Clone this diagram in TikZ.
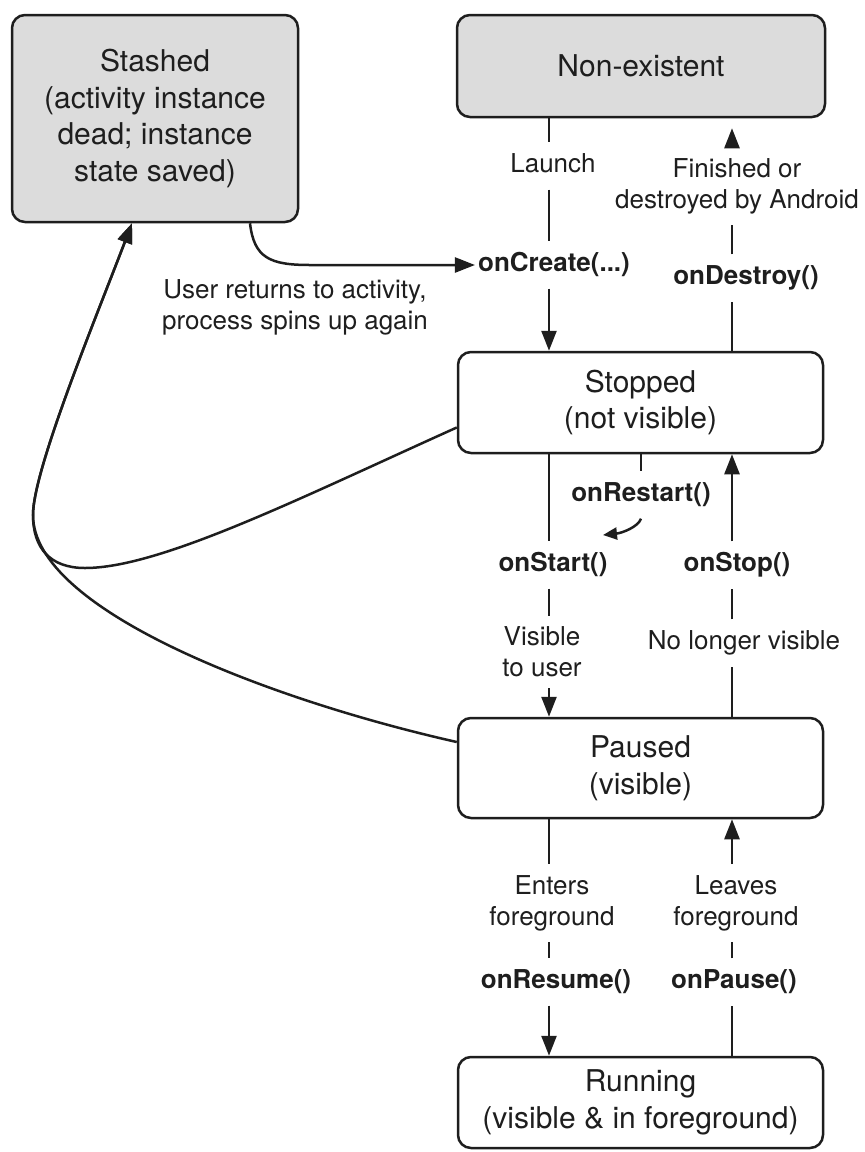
\documentclass[tikz,border=0pt]{standalone}
\usepackage{fontspec}
\setmainfont{TeX Gyre Heros}
\usetikzlibrary{arrows.meta}
\definecolor{boxgray}{HTML}{DCDCDC}
\definecolor{ink}{HTML}{1E1E1E}
\begin{document}
\begin{tikzpicture}[x=1pt,y=-1pt,
  state/.style={draw=ink, line width=2.5pt, rounded corners=13pt, align=center, text=ink, font=\fontsize{30}{36.5}\selectfont, inner sep=0pt},
  gstate/.style={state, fill=boxgray},
  wstate/.style={state, fill=white},
  lbl/.style={text=ink, font=\fontsize{26}{31}\selectfont, inner xsep=3pt, inner ysep=11pt, text height=19pt, text depth=6pt},
  lbltwo/.style={text=ink, font=\fontsize{26}{31}\selectfont, inner xsep=3pt, inner ysep=11pt, align=center},
  fn/.style={lbl, font=\fontsize{26}{31}\selectfont\bfseries},
  conn/.style={draw=ink, line width=2.5pt},
  arr/.style={conn, -{Triangle[length=20pt 0 0,width=15pt 0 0]}},
  sarr/.style={conn, -{Triangle[length=14pt 0 0,width=12pt 0 0]}},
]
\useasboundingbox (0,0) rectangle (865,1152);

% states
\node[gstate, minimum width=286pt, minimum height=207pt] (stashed) at (155,118.5) {Stashed\\(activity instance\\dead; instance\\state saved)};
\node[gstate, minimum width=368pt, minimum height=102pt] (ne) at (641,66) {Non-existent};
\node[wstate, minimum width=365pt, minimum height=101pt] (stopped) at (640.5,402.5) {Stopped\\(not visible)};
\node[wstate, minimum width=365pt, minimum height=100pt] (paused) at (640.5,768) {Paused\\(visible)};
\node[wstate, minimum width=365pt, minimum height=91pt] (running) at (640.5,1102.5) {Running\\(visible \& in foreground)};

% column coordinates
\coordinate (cL) at (549,0);
\coordinate (cR) at (732,0);
\coordinate (sx) at (250,0);
\coordinate (sa) at (132,0);
\coordinate (rs) at (603,535);

% labels
\node[lbl] (launch) at (553,166) {Launch};
\node[fn] (oncreate) at (554,265) {onCreate(...)};
\node[lbltwo] (finished) at (737,186) {Finished or\\destroyed by Android};
\node[fn] (ondestroy) at (746,278) {onDestroy()};
\node[lbltwo] (ret) at (295,307) {User returns to activity,\\process spins up again};
\node[fn] (onrestart) at (641,495) {onRestart()};
\node[fn] (onstart) at (553,565) {onStart()};
\node[fn] (onstop) at (737,565) {onStop()};
\node[lbltwo] (visible) at (542,652) {Visible\\to user};
\node[lbl] (nolonger) at (744,643) {No longer visible};
\node[lbltwo] (enters) at (552,903) {Enters\\foreground};
\node[lbltwo] (leaves) at (736,903) {Leaves\\foreground};
\node[fn] (onresume) at (556,982) {onResume()};
\node[fn] (onpause) at (734,982) {onPause()};

% launch column
\draw[conn] (ne.south -| cL) -- (launch.north -| cL);
\draw[conn] (launch.south -| cL) -- (oncreate.north -| cL);
\draw[arr] (oncreate.south -| cL) -- (stopped.north -| cL);

% destroy column
\draw[conn] (stopped.north -| cR) -- (ondestroy.south -| cR);
\draw[conn] (ondestroy.north -| cR) -- (finished.south -| cR);
\draw[arr, shorten >=10pt] (finished.north -| cR) -- (ne.south -| cR);

% stopped <-> paused
\draw[conn] (stopped.south -| cL) -- (onstart.north -| cL);
\draw[conn] (onstart.south -| cL) -- (visible.north -| cL);
\draw[arr] (visible.south -| cL) -- (paused.north -| cL);
\draw[conn] (paused.north -| cR) -- (nolonger.south -| cR);
\draw[conn] (nolonger.north -| cR) -- (onstop.south -| cR);
\draw[arr] (onstop.north -| cR) -- (stopped.south -| cR);
\draw[conn] (stopped.south -| onrestart) -- (onrestart.north);
\draw[sarr] (onrestart.south) .. controls (638,527) and (622,533) .. (rs);

% paused <-> running
\draw[conn] (paused.south -| cL) -- (enters.north -| cL);
\draw[conn] (enters.south -| cL) -- (onresume.north -| cL);
\draw[arr] (onresume.south -| cL) -- (running.north -| cL);
\draw[conn] (running.north -| cR) -- (onpause.south -| cR);
\draw[conn] (onpause.north -| cR) -- (leaves.south -| cR);
\draw[arr] (leaves.north -| cR) -- (paused.south -| cR);

% stashed curves
\draw[arr] (stashed.south -| sx) .. controls (254,258) and (270,265) .. (310,265) -- (oncreate.west);
\draw[arr] ([yshift=-25pt]stopped.west) .. controls (298,499) and (160,568) .. (85,568)
  .. controls (50,568) and (33,548) .. (33,515)
  .. controls (33,470) and (95,320) .. (stashed.south -| sa);
\draw[arr] ([yshift=26pt]paused.west) .. controls (270,700) and (33,610) .. (33,515)
  .. controls (33,470) and (95,320) .. (stashed.south -| sa);
\end{tikzpicture}
\end{document}
